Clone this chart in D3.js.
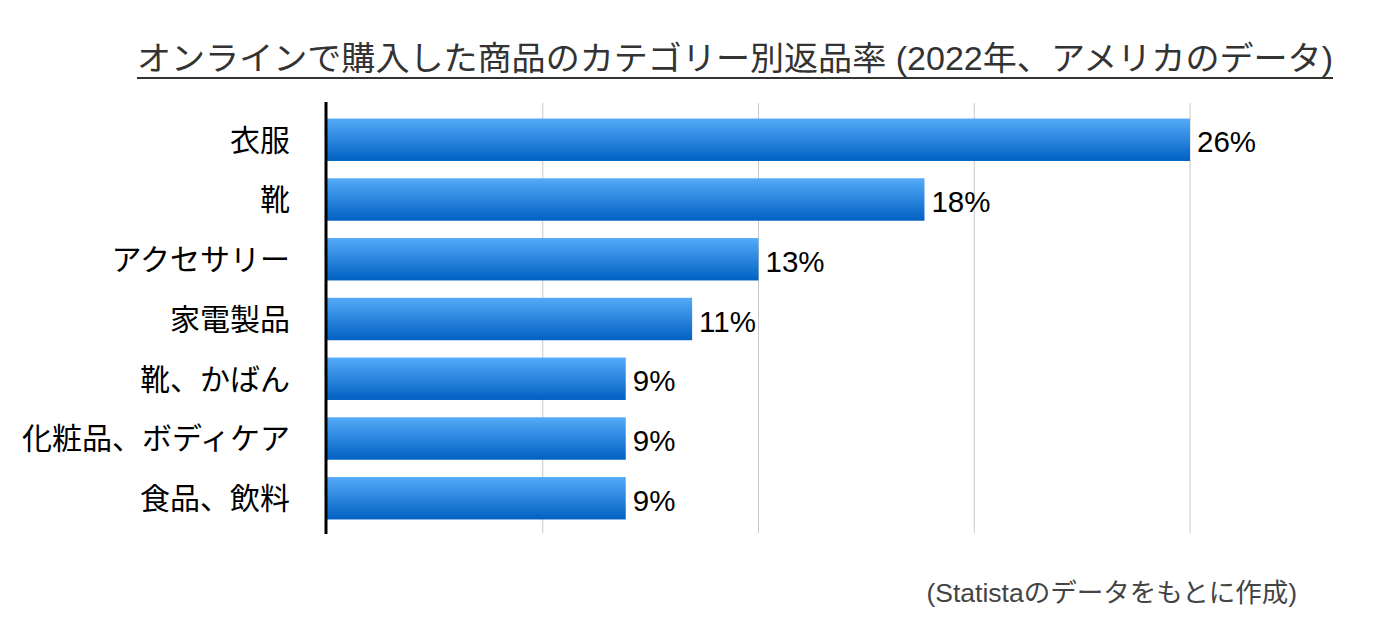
<!DOCTYPE html>
<html>
<head>
<meta charset="utf-8">
<script src="https://cdn.jsdelivr.net/npm/d3@7"></script>
<style>
  body { margin: 0; background: #fff; }
  text { font-family: "Liberation Sans", "Noto Sans CJK JP", sans-serif; }
</style>
</head>
<body>
<div id="chart"></div>
<script>
// data
var categories = ['衣服', '靴', 'アクセサリー', '家電製品', '靴、かばん', '化粧品、ボディケア', '食品、飲料'];
var returnRates = [26, 18, 13, 11, 9, 9, 9];
var gridTicks = [6.5, 13, 19.5, 26];
var titleText = 'オンラインで購入した商品のカテゴリー別返品率 (2022年、アメリカのデータ)';
var sourceText = '(Statistaのデータをもとに作成)';

var width = 1378, height = 634;
var svg = d3.select('#chart').append('svg')
    .attr('width', width)
    .attr('height', height);

var defs = svg.append('defs');
var grad = defs.append('linearGradient')
    .attr('id', 'barGrad')
    .attr('x1', 0).attr('y1', 0).attr('x2', 0).attr('y2', 1);
grad.append('stop').attr('offset', '0%').attr('stop-color', '#55abf9');
grad.append('stop').attr('offset', '100%').attr('stop-color', '#0060c2');

var x = d3.scaleLinear().domain([0, 26]).range([327, 1190]);
var y = d3.scaleBand()
    .domain(categories)
    .range([103, 535])
    .paddingInner(0.29)
    .paddingOuter(0.26);

// gridlines
svg.append('g').attr('class', 'grid')
  .selectAll('line')
  .data(gridTicks)
  .enter().append('line')
    .attr('x1', function(d) { return x(d); })
    .attr('x2', function(d) { return x(d); })
    .attr('y1', 103)
    .attr('y2', 533)
    .attr('stroke', '#c8c8c8')
    .attr('stroke-width', 1);

// bars
svg.append('g').attr('class', 'bars')
  .selectAll('rect')
  .data(returnRates)
  .enter().append('rect')
    .attr('x', x(0))
    .attr('y', function(d, i) { return y(categories[i]); })
    .attr('width', function(d) { return x(d) - x(0); })
    .attr('height', y.bandwidth())
    .attr('fill', 'url(#barGrad)');

// value labels
svg.append('g').attr('class', 'values')
  .selectAll('text')
  .data(returnRates)
  .enter().append('text')
    .attr('x', function(d) { return x(d) + 7; })
    .attr('y', function(d, i) { return y(categories[i]) + y.bandwidth() / 2 + 2; })
    .attr('dy', '0.36em')
    .attr('font-size', 29.5)
    .attr('fill', '#000')
    .text(function(d) { return d + '%'; });

// category axis
var yAxis = svg.append('g')
    .attr('transform', 'translate(' + 326 + ',0)')
    .call(d3.axisLeft(y).tickSize(0).tickPadding(36));
yAxis.select('.domain').remove();
yAxis.selectAll('text')
    .attr('font-size', 30)
    .attr('fill', '#000')
    .attr('dy', '0.36em');
svg.append('line')
    .attr('x1', 326).attr('x2', 326)
    .attr('y1', 102).attr('y2', 534)
    .attr('stroke', '#000')
    .attr('stroke-width', 3);

// title
svg.append('text')
    .attr('x', 137)
    .attr('y', 70)
    .attr('font-size', 33)
    .attr('fill', '#333')
    .attr('textLength', 1196)
    .attr('lengthAdjust', 'spacingAndGlyphs')
    .text(titleText);
svg.append('line')
    .attr('x1', 137).attr('x2', 1333)
    .attr('y1', 78).attr('y2', 78)
    .attr('stroke', '#333')
    .attr('stroke-width', 2);

// source note
svg.append('text')
    .attr('x', 1297)
    .attr('y', 602)
    .attr('text-anchor', 'end')
    .attr('font-size', 26.5)
    .attr('fill', '#444')
    .text(sourceText);
</script>
</body>
</html>
